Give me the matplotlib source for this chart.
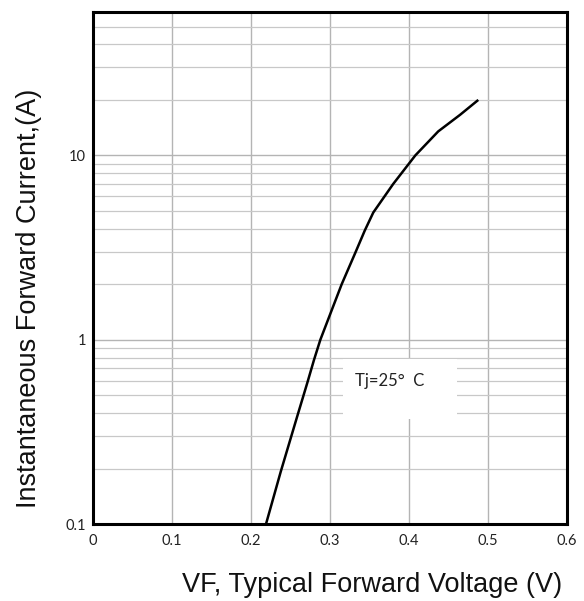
import matplotlib
matplotlib.use("Agg")
import matplotlib.pyplot as plt
from matplotlib.patches import Rectangle
from matplotlib.ticker import FixedLocator, NullFormatter

# Data
vf = [0.219, 0.2376, 0.2586, 0.2713, 0.2797, 0.2878, 0.3148, 0.3317,
      0.344, 0.3548, 0.380, 0.408, 0.437, 0.4646, 0.4877]
current = [0.1, 0.192, 0.385, 0.584, 0.776, 1.0, 2.0, 2.94,
           3.91, 4.9, 7.0, 10.0, 13.5, 16.6, 20.0]

x_ticks = [0, 0.1, 0.2, 0.3, 0.4, 0.5, 0.6]
x_tick_labels = ["0", "0.1", "0.2", "0.3", "0.4", "0.5", "0.6"]
y_ticks = [0.1, 1, 10]
y_tick_labels = ["0.1", "1", "10"]
y_minor = [0.2, 0.3, 0.4, 0.5, 0.6, 0.7, 0.8, 0.9,
           2, 3, 4, 5, 6, 7, 8, 9, 20, 30, 40, 50]
annotation = "Tj=25°  C"
note_box = [0.3165, 0.372, 0.4608, 0.788]  # x0, y0, x1, y1 in data units

fig = plt.figure(figsize=(5.84, 6.01), dpi=100)
ax = fig.add_axes([93/584, 1-524/601, (567-93)/584, (524-12)/601])

ax.set_yscale("log")
ax.set_xlim(0, 0.6)
ax.set_ylim(0.1, 60)

ax.yaxis.set_major_locator(FixedLocator(y_ticks))
ax.yaxis.set_minor_locator(FixedLocator(y_minor))
ax.yaxis.set_minor_formatter(NullFormatter())
ax.set_yticks(y_ticks)
ax.set_yticklabels(y_tick_labels)
ax.set_xticks(x_ticks)
ax.set_xticklabels(x_tick_labels)

ax.grid(True, which="major", color="#b4b4b4", linewidth=1.0, zorder=1)
ax.grid(True, which="minor", axis="y", color="#c8c8c8", linewidth=0.9, zorder=1)
ax.set_axisbelow(True)

ax.tick_params(axis="both", which="both", length=0, labelsize=10.5, colors="#222222")
ax.tick_params(axis="x", pad=7)
ax.tick_params(axis="y", pad=5)
for lab in ax.get_xticklabels() + ax.get_yticklabels():
    lab.set_family("Lato")

for sp in ax.spines.values():
    sp.set_linewidth(2.2)
    sp.set_color("black")
    sp.set_zorder(5)

# white box behind annotation
ax.add_patch(Rectangle((note_box[0], note_box[1]), note_box[2]-note_box[0],
                       note_box[3]-note_box[1], facecolor="white",
                       edgecolor="none", zorder=2))
ax.text(0.332, 0.6, annotation, fontsize=12, family="Lato", color="#222222",
        va="center", ha="left", zorder=3)

ax.plot(vf, current, color="black", linewidth=1.8, zorder=4,
        solid_capstyle="butt", solid_joinstyle="round")

fig.text(372/584, 1-585/601, "VF, Typical Forward Voltage (V)", ha="center",
         va="center", fontsize=19.5, family="Liberation Sans", color="#111111")
fig.text(29/584, 1-298/601, "Instantaneous Forward Current,(A)", ha="center",
         va="center", rotation=90, fontsize=19.5, family="Liberation Sans",
         color="#111111")

fig.savefig("out.png", dpi=100)
